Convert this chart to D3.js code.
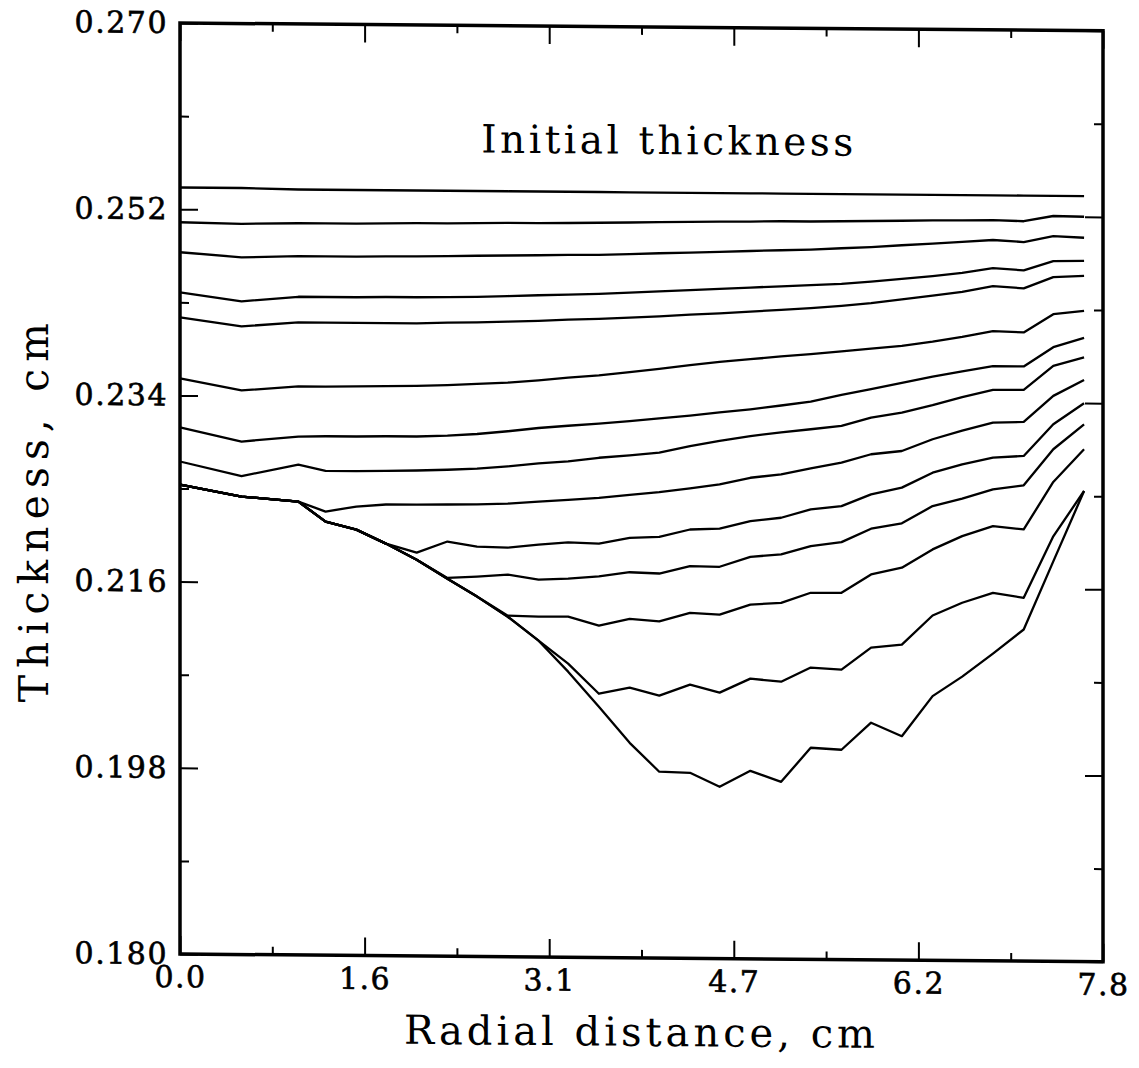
<!DOCTYPE html>
<html>
<head>
<meta charset="utf-8">
<script src="https://cdn.jsdelivr.net/npm/d3@7"></script>
<style>
  body { margin: 0; background: #fff; }
  text { font-family: "DejaVu Serif", serif; fill: #000; }
</style>
</head>
<body>
<div id="chart"></div>
<script>
// radial positions of the nodes, cm
var radius = [0, 0.52, 1.0, 1.23, 1.49, 1.74, 2.0, 2.26, 2.51, 2.77, 3.03, 3.28, 3.54, 3.8, 4.05,
  4.31, 4.56, 4.82, 5.08, 5.33, 5.59, 5.84, 6.1, 6.36, 6.61, 6.87, 7.13, 7.38, 7.64];

// thickness profiles, cm (top = initial thickness)
var t00 = [0.2541, 0.2541, 0.2540, 0.2540, 0.2540, 0.2540, 0.2540, 0.2540, 0.2540, 0.2540, 0.2540, 0.2540, 0.2540, 0.2540, 0.2540,
  0.2540, 0.2540, 0.2540, 0.2540, 0.2540, 0.2540, 0.2540, 0.2540, 0.2540, 0.2540, 0.2540, 0.2540, 0.2540, 0.2540];
var t01 = [0.25074, 0.25064, 0.25074, 0.25074, 0.25074, 0.25079, 0.25084, 0.25084, 0.25089, 0.25094, 0.25094, 0.25098, 0.25103, 0.25108, 0.25113,
  0.25118, 0.25123, 0.25127, 0.25132, 0.25132, 0.25137, 0.25142, 0.25147, 0.25152, 0.25156, 0.25161, 0.25152, 0.25205, 0.25200];
var t02 = [0.24784, 0.24740, 0.24755, 0.24755, 0.24755, 0.24760, 0.24764, 0.24769, 0.24774, 0.24779, 0.24784, 0.24789, 0.24793, 0.24803, 0.24813,
  0.24822, 0.24832, 0.24842, 0.24852, 0.24861, 0.24876, 0.24890, 0.24910, 0.24929, 0.24948, 0.24968, 0.24951, 0.25011, 0.24997];
var t03 = [0.24397, 0.24314, 0.24363, 0.24363, 0.24363, 0.24368, 0.24368, 0.24372, 0.24377, 0.24387, 0.24397, 0.24406, 0.24416, 0.24430, 0.24445,
  0.24459, 0.24474, 0.24489, 0.24503, 0.24518, 0.24532, 0.24556, 0.24585, 0.24614, 0.24648, 0.24697, 0.24677, 0.24769, 0.24774];
var t04 = [0.24155, 0.24072, 0.24116, 0.24116, 0.24116, 0.24116, 0.24116, 0.24126, 0.24130, 0.24140, 0.24150, 0.24164, 0.24174, 0.24188, 0.24203,
  0.24222, 0.24237, 0.24256, 0.24276, 0.24295, 0.24319, 0.24348, 0.24387, 0.24426, 0.24464, 0.24522, 0.24503, 0.24614, 0.24629];
var t05 = [0.23564, 0.23453, 0.23496, 0.23496, 0.23501, 0.23506, 0.23511, 0.23521, 0.23535, 0.23550, 0.23574, 0.23603, 0.23627, 0.23661, 0.23695,
  0.23733, 0.23767, 0.23796, 0.23825, 0.23850, 0.23879, 0.23908, 0.23937, 0.23980, 0.24029, 0.24087, 0.24077, 0.24256, 0.24290];
var t06 = [0.23090, 0.22959, 0.23012, 0.23017, 0.23017, 0.23022, 0.23022, 0.23032, 0.23051, 0.23080, 0.23114, 0.23138, 0.23162, 0.23187, 0.23216,
  0.23245, 0.23279, 0.23312, 0.23351, 0.23390, 0.23458, 0.23516, 0.23579, 0.23642, 0.23695, 0.23748, 0.23748, 0.23937, 0.24029];
var t07 = [0.22761, 0.22625, 0.22741, 0.22683, 0.22683, 0.22688, 0.22693, 0.22703, 0.22717, 0.22741, 0.22771, 0.22794, 0.22831, 0.22857, 0.22886,
  0.22951, 0.23005, 0.23053, 0.23092, 0.23124, 0.23158, 0.23242, 0.23293, 0.23366, 0.23446, 0.23519, 0.23522, 0.23757, 0.23840];
var t08 = [0.22538, 0.22427, 0.22383, 0.22289, 0.22340, 0.22362, 0.22364, 0.22367, 0.22370, 0.22381, 0.22403, 0.22421, 0.22444, 0.22474, 0.22504,
  0.22542, 0.22584, 0.22650, 0.22685, 0.22746, 0.22803, 0.22887, 0.22921, 0.23037, 0.23122, 0.23203, 0.23212, 0.23466, 0.23623];
var t09 = [0.22538, 0.22427, 0.22383, 0.22192, 0.22117, 0.21984, 0.21899, 0.22009, 0.21963, 0.21955, 0.21987, 0.22010, 0.22002, 0.22060, 0.22072,
  0.22145, 0.22155, 0.22230, 0.22266, 0.22349, 0.22383, 0.22499, 0.22567, 0.22714, 0.22797, 0.22864, 0.22883, 0.23192, 0.23398];
var t10 = [0.22538, 0.22427, 0.22383, 0.22192, 0.22117, 0.21984, 0.21831, 0.21657, 0.21673, 0.21694, 0.21648, 0.21661, 0.21685, 0.21727, 0.21717,
  0.21790, 0.21787, 0.21886, 0.21911, 0.21994, 0.22035, 0.22167, 0.22222, 0.22391, 0.22465, 0.22557, 0.22599, 0.22950, 0.23194];
var t11 = [0.22538, 0.22427, 0.22383, 0.22192, 0.22117, 0.21984, 0.21831, 0.21650, 0.21479, 0.21297, 0.21290, 0.21293, 0.21208, 0.21276, 0.21255,
  0.21339, 0.21325, 0.21424, 0.21443, 0.21543, 0.21545, 0.21725, 0.21793, 0.21972, 0.22103, 0.22202, 0.22173, 0.22634, 0.22952];
var t12 = [0.22538, 0.22427, 0.22383, 0.22192, 0.22117, 0.21984, 0.21831, 0.21650, 0.21479, 0.21287, 0.21058, 0.20838, 0.20550, 0.20611, 0.20536,
  0.20645, 0.20570, 0.20708, 0.20681, 0.20820, 0.20802, 0.21018, 0.21050, 0.21333, 0.21459, 0.21557, 0.21512, 0.22108, 0.22549];
var t13 = [0.22538, 0.22427, 0.22383, 0.22192, 0.22117, 0.21984, 0.21831, 0.21650, 0.21479, 0.21287, 0.21058, 0.20761, 0.20424, 0.20078, 0.19801,
  0.19793, 0.19660, 0.19817, 0.19713, 0.20045, 0.20028, 0.20292, 0.20164, 0.20554, 0.20745, 0.20970, 0.21205, 0.21866, 0.22549];

var profiles = [t00, t01, t02, t03, t04, t05, t06, t07, t08, t09, t10, t11, t12, t13];

// ticks
var xMajor = [0, 1.56, 3.12, 4.68, 6.24, 7.8];
var xTickLabels = ["0.0", "1.6", "3.1", "4.7", "6.2", "7.8"];
var xMinor = [0.78, 2.34, 3.9, 5.46, 7.02];
var yMajor = [0.180, 0.198, 0.216, 0.234, 0.252, 0.270];
var yTickLabels = ["0.180", "0.198", "0.216", "0.234", "0.252", "0.270"];
var yMinor = [0.189, 0.207, 0.225, 0.243, 0.261];

var svgWidth = 1139;
var svgHeight = 1068;
var margin = { top: 23, right: 36, bottom: 114, left: 180 };
var width = svgWidth - margin.left - margin.right;
var height = svgHeight - margin.top - margin.bottom;

var svg = d3.select("#chart")
  .append("svg")
  .attr("width", svgWidth)
  .attr("height", svgHeight);

// the scanned original is slightly skewed; follow it
var chartGroup = svg.append("g")
  .attr("transform", `translate(${margin.left}, ${margin.top}) skewY(0.48)`);

var xScale = d3.scaleLinear().domain([0, 7.8]).range([0, width]);
var yScale = d3.scaleLinear().domain([0.180, 0.270]).range([height, 0]);

function styleAxis(g) {
  g.select(".domain").remove();
  g.selectAll(".tick line").attr("stroke", "#000").attr("stroke-width", 2);
}

// major / minor ticks, pointing inward on all four sides
chartGroup.append("g")
  .attr("transform", `translate(0, ${height})`)
  .call(d3.axisBottom(xScale).tickValues(xMajor).tickSize(-18).tickPadding(12)
    .tickFormat((d, i) => xTickLabels[i]))
  .call(styleAxis);
chartGroup.append("g")
  .attr("transform", `translate(0, ${height})`)
  .call(d3.axisBottom(xScale).tickValues(xMinor).tickSize(-8).tickFormat(""))
  .call(styleAxis);
chartGroup.append("g")
  .call(d3.axisTop(xScale).tickValues(xMajor).tickSize(-18).tickFormat(""))
  .call(styleAxis);
chartGroup.append("g")
  .call(d3.axisTop(xScale).tickValues(xMinor).tickSize(-8).tickFormat(""))
  .call(styleAxis);
chartGroup.append("g")
  .call(d3.axisLeft(yScale).tickValues(yMajor).tickSize(-18).tickPadding(12)
    .tickFormat((d, i) => yTickLabels[i]))
  .call(styleAxis);
chartGroup.append("g")
  .call(d3.axisLeft(yScale).tickValues(yMinor).tickSize(-9).tickFormat(""))
  .call(styleAxis);
chartGroup.append("g")
  .attr("transform", `translate(${width}, 0)`)
  .call(d3.axisRight(yScale).tickValues(yMajor).tickSize(-18).tickFormat(""))
  .call(styleAxis);
chartGroup.append("g")
  .attr("transform", `translate(${width}, 0)`)
  .call(d3.axisRight(yScale).tickValues(yMinor).tickSize(-9).tickFormat(""))
  .call(styleAxis);

chartGroup.selectAll(".tick text")
  .style("font-size", "30px")
  .style("letter-spacing", "1.5px")
  .style("stroke", "#000")
  .style("stroke-width", 0.6);

// frame
chartGroup.append("rect")
  .attr("width", width)
  .attr("height", height)
  .attr("fill", "none")
  .attr("stroke", "#000")
  .attr("stroke-width", 3.5);

// profiles
var line = d3.line()
  .x((d, i) => xScale(radius[i]))
  .y((d) => yScale(d));

chartGroup.append("g")
  .selectAll("path")
  .data(profiles)
  .enter()
  .append("path")
  .attr("d", line)
  .attr("fill", "none")
  .attr("stroke", "#000")
  .attr("stroke-width", 2.3)
  .attr("stroke-linejoin", "round");

chartGroup.append("text")
  .text("Initial thickness")
  .attr("x", xScale(4.2) - 8)
  .attr("y", 127)
  .style("text-anchor", "middle")
  .style("font-size", "39px")
  .style("letter-spacing", "3.5px");

chartGroup.append("text")
  .text("Radial distance, cm")
  .attr("x", width / 2)
  .attr("y", height + 88)
  .style("text-anchor", "middle")
  .style("font-size", "40px")
  .style("letter-spacing", "4px");

chartGroup.append("text")
  .text("Thickness, cm")
  .style("text-anchor", "middle")
  .style("font-size", "41px")
  .style("letter-spacing", "7px")
  .attr("transform", `translate(-132, ${height / 2 + 22}) rotate(-90)`);
</script>
</body>
</html>
